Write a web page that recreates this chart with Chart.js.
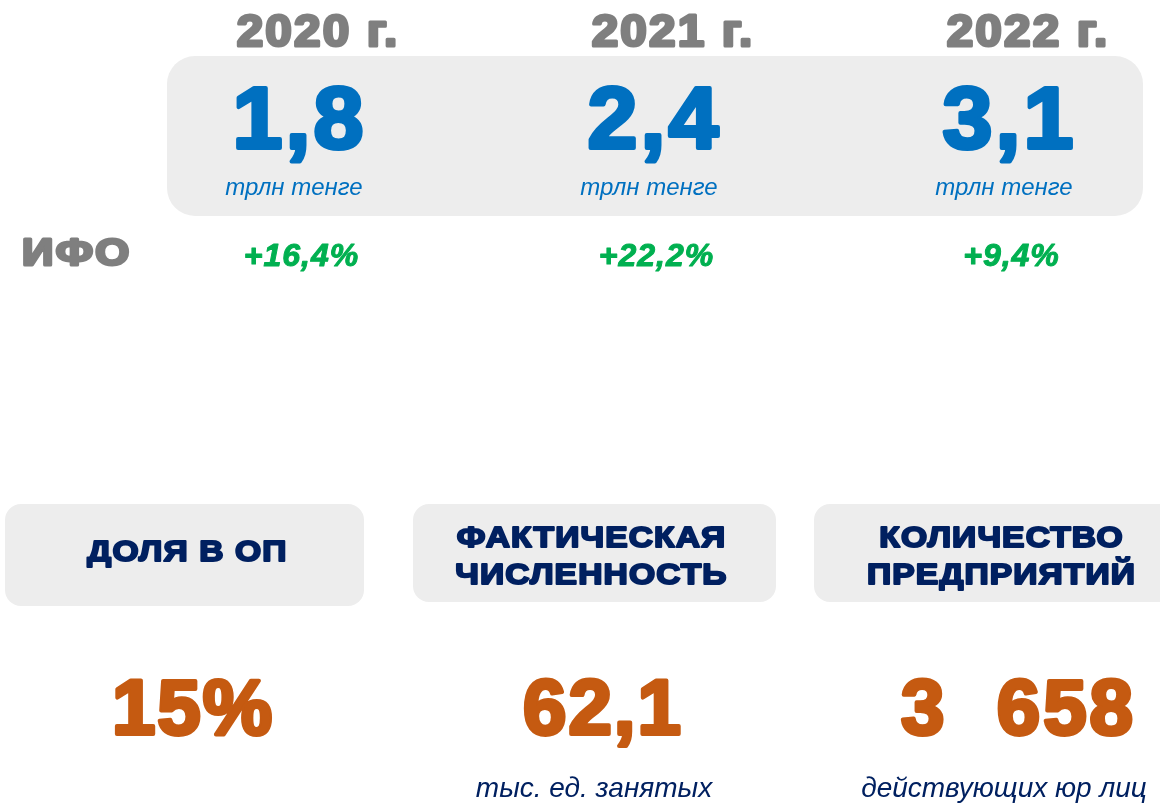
<!DOCTYPE html>
<html lang="ru">
<head>
<meta charset="utf-8">
<title>ИФО</title>
<script src="https://cdn.jsdelivr.net/npm/chart.js@4.4.1/dist/chart.umd.min.js"></script>
<style>
  html, body { margin: 0; padding: 0; background: #fff; }
  #wrap { position: relative; width: 1160px; height: 803px; overflow: hidden; }
  canvas { position: absolute; left: 0; }
  #topChart { top: 0; }
  #bottomChart { top: 480px; }
</style>
</head>
<body>
<div id="wrap">
  <canvas id="topChart" width="1160" height="300"></canvas>
  <canvas id="bottomChart" width="1160" height="323"></canvas>
</div>
<script>
// data
const years = ['2020 г.', '2021 г.', '2022 г.'];
const volumes = [1.8, 2.4, 3.1];      // трлн тенге
const volumeUnit = 'трлн тенге';
const growth = [16.4, 22.2, 9.4];     // %
const rowLabel = 'ИФО';

const kpiTitles = [['ДОЛЯ В ОП'], ['ФАКТИЧЕСКАЯ', 'ЧИСЛЕННОСТЬ'], ['КОЛИЧЕСТВО', 'ПРЕДПРИЯТИЙ']];
const kpiValues = [15, 62.1, 3658];
const kpiUnits = ['', 'тыс. ед. занятых', 'действующих юр лиц'];

const GRAY = '#7f7f7f', BLUE = '#0070c0', GREEN = '#00b050';
const NAVY = '#002060', ORANGE = '#c55a11', BOX = '#ededed';
const FONT = '"Liberation Sans", Arial, sans-serif';

function fmt1(v) { return v.toFixed(1).replace('.', ','); }
function fmtKpi(v, i) {
    if (i === 0) return v + '%';
    if (v >= 1000) return Math.floor(v / 1000) + '  ' + String(v % 1000).padStart(3, '0');
    return fmt1(v);
}

// text helper: heavy look = bold + outline of same colour
function txt(ctx, s, x, y, size, color, opts) {
    opts = opts || {};
    ctx.save();
    ctx.font = (opts.italic ? 'italic ' : '') + (opts.bold === false ? '' : 'bold ') + size + 'px ' + FONT;
    ctx.fillStyle = color;
    ctx.textAlign = opts.align || 'center';
    ctx.textBaseline = 'alphabetic';
    ctx.letterSpacing = (opts.ls || 0) + 'px';
    ctx.translate(x + (opts.align ? 0 : (opts.ls || 0) / 2), y);
    if (opts.sx) ctx.scale(opts.sx, 1);
    if (opts.stroke) {
        ctx.lineWidth = opts.stroke;
        ctx.strokeStyle = color;
        ctx.lineJoin = 'round';
        ctx.strokeText(s, 0, 0);
    }
    ctx.fillText(s, 0, 0);
    ctx.restore();
}

function roundBox(ctx, x, y, w, h, r) {
    ctx.beginPath();
    ctx.roundRect(x, y, w, h, r);
    ctx.fillStyle = BOX;
    ctx.fill();
}

const topPlugin = {
    id: 'topInfo',
    beforeDatasetsDraw(chart) {
        const ctx = chart.ctx;
        const xs = chart.scales.x;
        const vals = chart.data.datasets[0].data;
        const x0 = xs.getPixelForValue(0), x2 = xs.getPixelForValue(2);
        roundBox(ctx, x0 - 133, 56, x2 - x0 + 266, 160, 28);
        txt(ctx, rowLabel, x0 - 278, 265, 37, GRAY, { align: 'left', stroke: 3, sx: 1.18, ls: 2 });
        years.forEach((y, i) => {
            const x = xs.getPixelForValue(i);
            txt(ctx, y, x + 17, 46, 45, GRAY, { stroke: 3, sx: 1.06, ls: 2 });
            txt(ctx, fmt1(vals[i]), x - 2, 148, 88, BLUE, { stroke: 4, sx: 1.02, ls: 3 });
            txt(ctx, volumeUnit, x - 6, 195, 24, BLUE, { italic: true, bold: false });
            txt(ctx, '+' + fmt1(growth[i]) + '%', x + 1, 266, 32, GREEN, { italic: true, stroke: 1, ls: 1 });
        });
    }
};

const bottomPlugin = {
    id: 'bottomInfo',
    beforeDatasetsDraw(chart) {
        const ctx = chart.ctx;
        const xs = chart.scales.x;
        kpiTitles.forEach((lines, i) => {
            const x = xs.getPixelForValue(i);
            const bx = i === 2 ? x - 194 : x - 183 - i * 2;
            roundBox(ctx, bx, 24, i === 0 ? 359 : 363, i === 0 ? 102 : 98, 16);
            const o = { stroke: 2, sx: 1.12, ls: 1 };
            if (lines.length === 1) {
                txt(ctx, lines[0], x - 1, 81, 30, NAVY, o);
            } else {
                txt(ctx, lines[0], x - 7, 67, 30, NAVY, o);
                txt(ctx, lines[1], x - 7, 104, 30, NAVY, o);
            }
            txt(ctx, fmtKpi(kpiValues[i], i), x + (i === 2 ? 9 : 4), 254, 78, ORANGE,
                { stroke: 4, ls: i === 2 ? 3 : 2 });
            if (kpiUnits[i]) txt(ctx, kpiUnits[i], x - 4, 317, 28, NAVY, { italic: true, bold: false });
        });
    }
};

const hiddenScales = {
    x: { type: 'category', offset: false, display: false, grid: { display: false } },
    y: { display: false, min: 0, max: 10 }
};

new Chart(document.getElementById('topChart'), {
    type: 'line',
    data: {
        labels: years,
        datasets: [{ label: 'ИФО, трлн тенге', data: volumes, showLine: false, pointRadius: 0 }]
    },
    options: {
        responsive: false,
        animation: false,
        layout: { padding: { left: 300, right: 150, top: 0, bottom: 0 } },
        scales: hiddenScales,
        plugins: { legend: { display: false }, tooltip: { enabled: false } }
    },
    plugins: [topPlugin]
});

new Chart(document.getElementById('bottomChart'), {
    type: 'line',
    data: {
        labels: kpiTitles.map(t => t.join(' ')),
        datasets: [{ label: 'Показатели', data: kpiValues, showLine: false, pointRadius: 0 }]
    },
    options: {
        responsive: false,
        animation: false,
        layout: { padding: { left: 188, right: 152, top: 0, bottom: 0 } },
        scales: hiddenScales,
        plugins: { legend: { display: false }, tooltip: { enabled: false } }
    },
    plugins: [bottomPlugin]
});
</script>
</body>
</html>
